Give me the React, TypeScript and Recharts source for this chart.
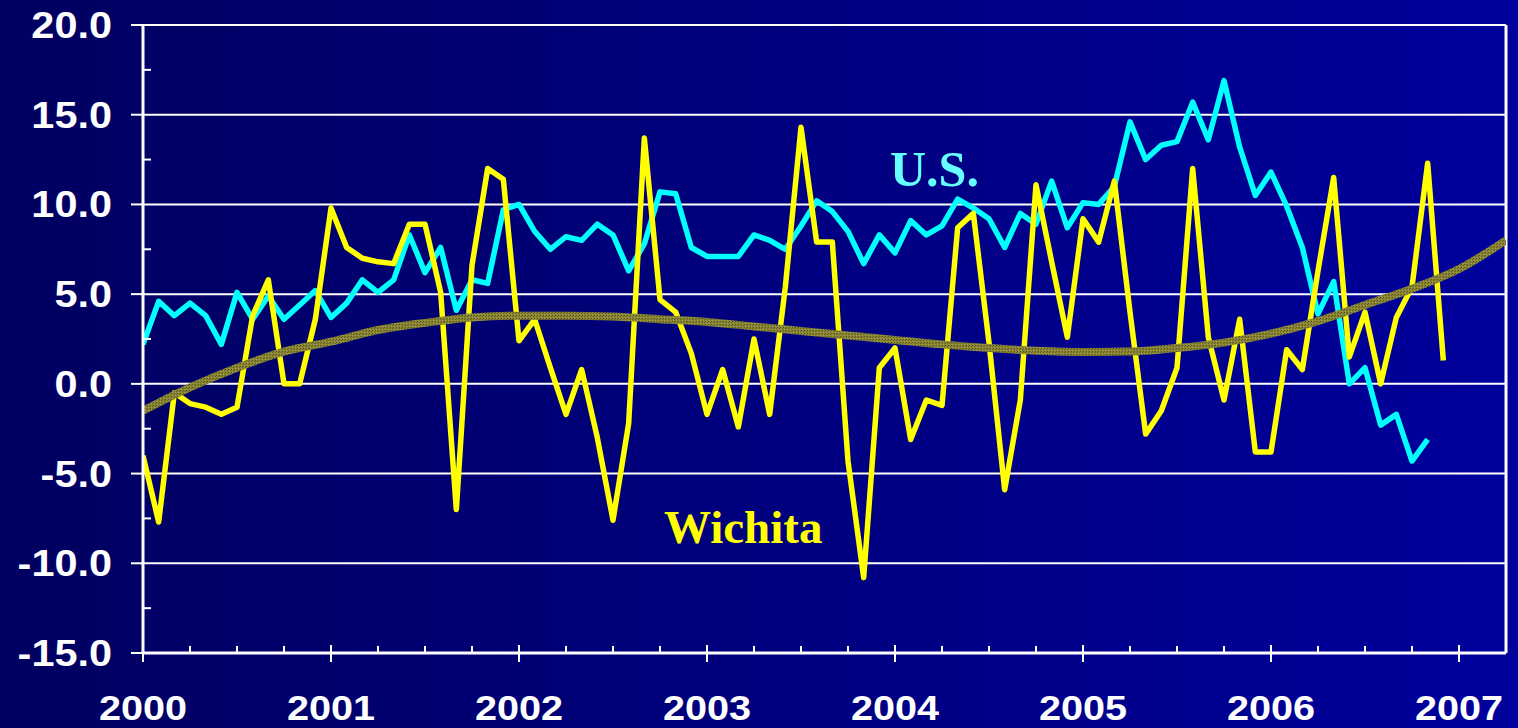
import React from 'react';
import { LineChart, Line, XAxis, YAxis, ReferenceLine } from 'recharts';

// Monthly values, month index 0 = Jan 2000
const wichita = [
  -4.0, -7.7, -0.5, -1.1, -1.3, -1.7, -1.3, 3.8, 5.8, 0.0,
  0.0, 3.6, 9.8, 7.6, 7.0, 6.8, 6.7, 8.9, 8.9, 5.1,
  -7.0, 6.6, 12.0, 11.4, 2.4, 3.6, 0.9, -1.7, 0.8, -3.0,
  -7.6, -2.2, 13.7, 4.7, 4.0, 1.7, -1.7, 0.8, -2.4, 2.5,
  -1.7, 5.4, 14.3, 7.9, 7.9, -4.3, -10.8, 0.9, 2.0, -3.1,
  -0.9, -1.2, 8.7, 9.5, 2.3, -5.9, -0.9, 11.1, 6.8, 2.6,
  9.2, 7.9, 11.3, 4.0, -2.8, -1.5, 0.9, 12.0, 2.6, -0.9,
  3.6, -3.8, -3.8, 1.9, 0.8, 6.3, 11.5, 1.5, 4.0, 0.0,
  3.7, 5.4, 12.3, 1.3,
];

const us = [
  2.2, 4.6, 3.8, 4.5, 3.8, 2.2, 5.1, 3.6, 4.9, 3.6,
  4.4, 5.2, 3.7, 4.5, 5.8, 5.1, 5.8, 8.3, 6.2, 7.6,
  4.1, 5.8, 5.6, 9.7, 10.0, 8.5, 7.5, 8.2, 8.0, 8.9,
  8.3, 6.3, 7.8, 10.7, 10.6, 7.6, 7.1, 7.1, 7.1, 8.3,
  8.0, 7.5, 8.8, 10.2, 9.6, 8.5, 6.7, 8.3, 7.3, 9.1,
  8.3, 8.8, 10.3, 9.8, 9.2, 7.6, 9.5, 8.9, 11.3, 8.7,
  10.1, 10.0, 11.0, 14.6, 12.5, 13.3, 13.5, 15.7, 13.6, 16.9,
  13.2, 10.5, 11.8, 9.9, 7.6, 3.9, 5.7, 0.0, 0.9, -2.3,
  -1.7, -4.3, -3.1,
];

// Trend line read every 3 months
const trendMonths = [0, 3, 6, 9, 12, 15, 18, 21, 24, 27, 30, 33, 36, 39, 42, 45, 48, 51, 54, 57, 60, 63, 66, 69, 72, 75, 78, 81, 84, 87];
const trendValues = [-1.5, -0.2, 0.9, 1.8, 2.35, 3.0, 3.4, 3.7, 3.8, 3.8, 3.75, 3.6, 3.45, 3.2, 2.95, 2.7, 2.45, 2.2, 2.0, 1.85, 1.78, 1.8, 2.0, 2.3, 2.8, 3.5, 4.4, 5.3, 6.4, 8.0];

const xTicks = [0, 3, 6, 9, 12, 15, 18, 21, 24, 27, 30, 33, 36, 39, 42, 45, 48, 51, 54, 57, 60, 63, 66, 69, 72, 75, 78, 81, 84];
const yTicks = [-15, -12.5, -10, -7.5, -5, -2.5, 0, 2.5, 5, 7.5, 10, 12.5, 15, 17.5, 20];
const gridValues = [-10, -5, 0, 5, 10, 15, 20];
const startYear = 2000;

const wichitaData = wichita.map((v, i) => ({ m: i, v }));
const usData = us.map((v, i) => ({ m: i, v }));
const trendData = trendMonths.map((m, i) => ({ m, v: trendValues[i] }));

const FONT = '"Liberation Sans", Arial, sans-serif';

const XTick = (props: any) => {
  const { x, y, payload } = props;
  const v = payload.value;
  const major = v % 12 === 0;
  return (
    <g>
      <line x1={x} x2={x} y1={major ? y - 8 : y - 7} y2={major ? y + 9 : y} stroke="#fff" strokeWidth={2} />
      {major && (
        <text
          transform={`translate(${x},${y + 67}) scale(1.1,1)`}
          textAnchor="middle"
          fill="#fff"
          fontSize={36}
          fontWeight="bold"
          fontFamily={FONT}
        >
          {startYear + v / 12}
        </text>
      )}
    </g>
  );
};

const YTick = (props: any) => {
  const { x, y, payload } = props;
  const v = payload.value;
  const major = v % 5 === 0;
  return (
    <g>
      {major ? (
        <line x1={x - 12} x2={x} y1={y} y2={y} stroke="#fff" strokeWidth={2} />
      ) : (
        <line x1={x} x2={x + 8} y1={y} y2={y} stroke="#fff" strokeWidth={2} />
      )}
      {major && (
        <text
          transform={`translate(${x - 31},${y + 13}) scale(1.12,1)`}
          textAnchor="end"
          fill="#fff"
          fontSize={37}
          fontWeight="bold"
          fontFamily={FONT}
        >
          {v.toFixed(1)}
        </text>
      )}
    </g>
  );
};

export default function App() {
  return (
    <div
      style={{
        position: 'relative',
        width: 1518,
        height: 728,
        background: 'linear-gradient(to right, #000060, #00009c)',
        overflow: 'hidden',
      }}
    >
      <style>{'body{margin:0}'}</style>
      <svg width={0} height={0} style={{ position: 'absolute' }}>
        <defs>
          <pattern id="trendTexture" width={3} height={3} patternUnits="userSpaceOnUse">
            <rect width={3} height={3} fill="#8a8636" />
            <rect width={1} height={1} fill="#55531c" />
            <rect x={2} y={1} width={1} height={1} fill="#64621f" />
            <rect x={1} y={2} width={1} height={1} fill="#a09c48" />
          </pattern>
        </defs>
      </svg>
      <LineChart width={1518} height={728} margin={{ top: 25, right: 12, bottom: 0, left: 0 }}>
        <XAxis
          dataKey="m"
          type="number"
          domain={[0, 87]}
          ticks={xTicks}
          interval={0}
          height={75}
          tickSize={0}
          tickMargin={0}
          tickLine={false}
          tick={<XTick />}
          axisLine={{ stroke: '#fff', strokeWidth: 3 }}
          allowDataOverflow
        />
        <YAxis
          type="number"
          domain={[-15, 20]}
          ticks={yTicks}
          interval={0}
          width={143}
          tickSize={0}
          tickMargin={0}
          tickLine={false}
          tick={<YTick />}
          axisLine={{ stroke: '#fff', strokeWidth: 3 }}
          allowDataOverflow
        />
        {gridValues.map((g) => (
          <ReferenceLine key={g} y={g} stroke="#ffffff" strokeWidth={2} />
        ))}
        <ReferenceLine x={87} stroke="#ffffff" strokeWidth={3} />
        <Line
          data={usData}
          dataKey="v"
          type="linear"
          stroke="#00ffff"
          strokeWidth={5.5}
          dot={false}
          strokeLinejoin="round"
          isAnimationActive={false}
        />
        <Line
          data={wichitaData}
          dataKey="v"
          type="linear"
          stroke="#ffff00"
          strokeWidth={5.5}
          dot={false}
          strokeLinejoin="round"
          isAnimationActive={false}
        />
        <Line
          data={trendData}
          dataKey="v"
          type="monotone"
          stroke="url(#trendTexture)"
          strokeWidth={8}
          dot={false}
          isAnimationActive={false}
        />
      </LineChart>
      <svg width={1518} height={728} style={{ position: 'absolute', left: 0, top: 0, pointerEvents: 'none' }}>
        <text x={890} y={186} fill="#66ffff" fontSize={50} fontWeight="bold" fontFamily='"Liberation Serif", "Times New Roman", serif'>
          U.S.
        </text>
        <text x={664} y={543} fill="#ffff00" fontSize={47} fontWeight="bold" fontFamily='"Liberation Serif", "Times New Roman", serif'>
          Wichita
        </text>
      </svg>
    </div>
  );
}
